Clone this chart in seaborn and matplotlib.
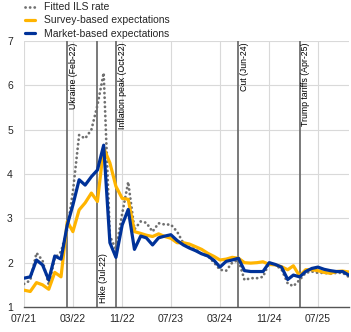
import numpy as np
import pandas as pd
import matplotlib
matplotlib.use("Agg")
import matplotlib.pyplot as plt
import matplotlib.dates as mdates
import seaborn as sns

# ---- data (monthly, Jul 2021 .. Dec 2025) ----
dates = pd.date_range("2021-07-01", "2025-12-01", freq="MS")

fitted_ils = [1.52, 1.60, 2.22, 2.05, 1.50, 2.10, 2.25, 2.75, 3.60, 4.88,
              4.80, 5.00, 5.55, 6.28, 2.60, 2.30, 3.10, 3.82, 2.75, 2.93,
              2.90, 2.70, 2.89, 2.86, 2.86, 2.70, 2.44, 2.35, 2.30, 2.20,
              2.15, 2.00, 1.84, 1.82, 2.00, 2.06, 1.61, 1.65, 1.65, 1.68,
              2.00, 1.95, 1.85, 1.53, 1.47, 1.61, 1.77, 1.80, 1.77, 1.77,
              1.75, 1.77, 1.77, 1.68]

survey = [1.38, 1.35, 1.55, 1.50, 1.40, 1.78, 1.68, 2.93, 2.70, 3.19,
          3.35, 3.57, 3.38, 4.59, 4.25, 3.72, 3.45, 3.43, 2.70, 2.66,
          2.62, 2.59, 2.65, 2.59, 2.55, 2.45, 2.45, 2.42, 2.36, 2.30,
          2.21, 2.14, 2.06, 2.08, 2.12, 2.10, 2.00, 1.99, 2.00, 2.02,
          1.96, 1.95, 1.91, 1.84, 1.93, 1.70, 1.84, 1.84, 1.82, 1.78,
          1.76, 1.80, 1.81, 1.79]

market = [1.65, 1.68, 2.06, 1.95, 1.61, 2.15, 2.08, 2.85, 3.30, 3.87,
          3.75, 3.94, 4.09, 4.65, 2.45, 2.12, 2.85, 3.20, 2.30, 2.60,
          2.56, 2.40, 2.56, 2.60, 2.63, 2.50, 2.40, 2.33, 2.27, 2.20,
          2.15, 2.05, 1.90, 2.03, 2.06, 2.10, 1.82, 1.80, 1.80, 1.80,
          2.00, 1.96, 1.90, 1.62, 1.72, 1.68, 1.80, 1.87, 1.90, 1.85,
          1.82, 1.80, 1.80, 1.72]

series_names = ["Fitted ILS rate", "Survey-based expectations", "Market-based expectations"]

event_dates = ["2022-02-01", "2022-07-01", "2022-10-01", "2024-06-01", "2025-04-01"]
event_labels = ["Ukraine (Feb-22)", "Hike (Jul-22)", "Inflation peak (Oct-22)",
                "Cut (Jun-24)", "Trump tariffs (Apr-25)"]
event_bottom = [False, True, False, False, False]

xtick_dates = ["2021-07-01", "2022-03-01", "2022-11-01", "2023-07-01",
               "2024-03-01", "2024-11-01", "2025-07-01"]
xtick_labels = ["07/21", "03/22", "11/22", "07/23", "03/24", "11/24", "07/25"]
yticks = [1, 2, 3, 4, 5, 6, 7]

# ---- style ----
sns.set_style("white")
plt.rcParams["font.family"] = ["Liberation Sans", "DejaVu Sans"]

YELLOW = "#FFB400"
BLUE = "#003299"
DOTS = "#707070"
EVENT = "#6e6e6e"
GRID = "#d9d9d9"

df = pd.DataFrame({"date": dates, "ils": fitted_ils, "survey": survey, "market": market})

fig = plt.figure(figsize=(3.51, 3.32), dpi=100)
ax = fig.add_axes([0.0684, 0.0753, 0.925, 0.8012])

for d in xtick_dates:
    ax.axvline(pd.Timestamp(d), color=GRID, lw=0.8, zorder=0)
for y in yticks[1:]:
    ax.axhline(y, color=GRID, lw=0.8, zorder=0)

for d, lab, bot in zip(event_dates, event_labels, event_bottom):
    t = pd.Timestamp(d)
    ax.axvline(t, color=EVENT, lw=1.3, zorder=1)
    if bot:
        ax.text(t + pd.Timedelta(days=8), 1.08, lab, rotation=90, ha="left", va="bottom",
                fontsize=6.3, color="black", zorder=5)
    else:
        ax.text(t + pd.Timedelta(days=8), 6.97, lab, rotation=90, ha="left", va="top",
                fontsize=6.3, color="black", zorder=5)

sns.lineplot(data=df, x="date", y="ils", ax=ax, color=DOTS, lw=2.0,
             linestyle=(0, (0.05, 1.6)), dash_capstyle="round",
             label=series_names[0], zorder=2)
sns.lineplot(data=df, x="date", y="survey", ax=ax, color=YELLOW, lw=2.3,
             label=series_names[1], zorder=3)
sns.lineplot(data=df, x="date", y="market", ax=ax, color=BLUE, lw=2.3,
             label=series_names[2], zorder=4)

ax.set_xlim(dates[0], dates[-1])
ax.set_ylim(1, 7)
ax.set_yticks(yticks)
ax.set_yticklabels([str(v) for v in yticks], fontsize=7.5)
ax.set_xticks([pd.Timestamp(d) for d in xtick_dates])
ax.set_xticklabels(xtick_labels, fontsize=7.5)
ax.tick_params(axis="y", length=0, pad=8)
ax.tick_params(axis="x", length=0, pad=5)
ax.set_xlabel("")
ax.set_ylabel("")

for s in ["top", "right", "left"]:
    ax.spines[s].set_visible(False)
ax.spines["bottom"].set_color("#555555")
ax.spines["bottom"].set_linewidth(1.0)

ax.legend(loc="upper left", bbox_to_anchor=(0.07, 0.993), bbox_transform=fig.transFigure,
          frameon=False, fontsize=7.5, handlelength=1.0, handletextpad=0.9,
          labelspacing=0.3, borderaxespad=0.0, borderpad=0.0)

fig.savefig("out.png", dpi=100)
